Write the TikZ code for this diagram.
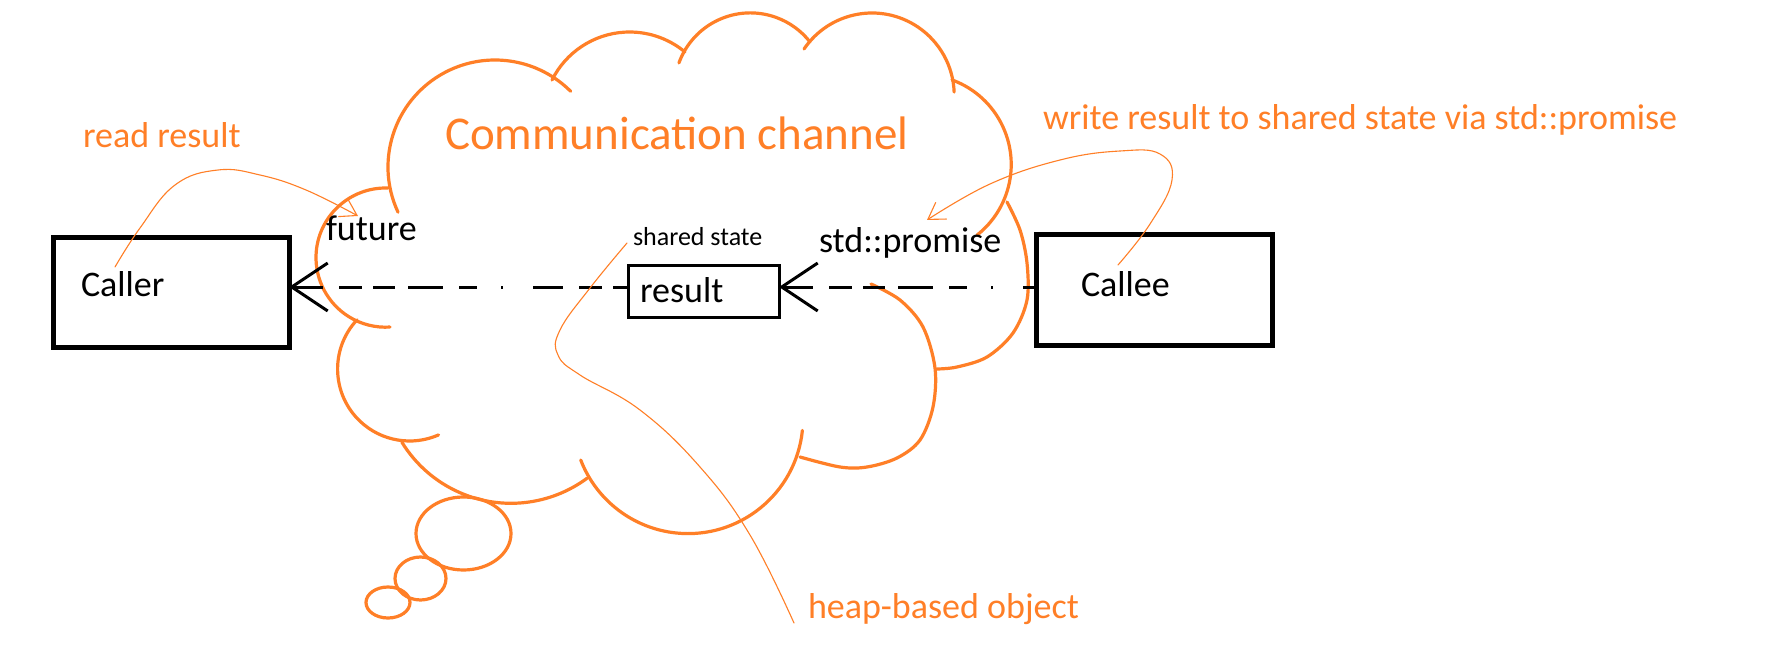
\documentclass[tikz,border=0pt]{standalone}
\usepackage{fontspec}
\setmainfont{Carlito}
\usetikzlibrary{arrows.meta}
\definecolor{paintorange}{RGB}{255,127,39}
\begin{document}
\begin{tikzpicture}[x=1pt,y=-1pt,
  cloudline/.style={draw=paintorange, line width=3.2pt, line cap=round, line join=round},
  noteline/.style={draw=paintorange, line width=1.1pt, line cap=round},
  notetip/.style={-{Straight Barb[length=16pt,width=20pt,line width=1.1pt]}},
  boxnode/.style={draw=black, inner sep=0pt, outer sep=0pt, fill=none},
  txt/.style={inner sep=0pt, outer sep=0pt, anchor=base west, font=\fontsize{36}{40}\selectfont},
  smalltxt/.style={inner sep=0pt, outer sep=0pt, anchor=base west, font=\fontsize{26}{30}\selectfont},
  orangetxt/.style={txt, text=paintorange},
  dashline/.style={draw=black, line width=3pt,
    dash pattern=on 30pt off 16pt on 23pt off 11pt on 22pt off 13pt on 35pt off 16pt on 18pt off 24pt on 2pt off 30pt},
  bigtip/.style={{Straight Barb[length=36pt,width=48pt,line width=3pt]}-}
]
\fill[white] (0,0) rectangle (1766,660);
\useasboundingbox (0,0) rectangle (1766,660);

% ---------- cloud ----------
\draw[cloudline] (495,167) ++(155:107) arc[start angle=155, end angle=315, radius=107];
\draw[cloudline] (629.6,118.7) ++(206.5:86.7) arc[start angle=206.5, end angle=309.7, radius=86.7];
\draw[cloudline] (750.3,88.8) ++(199.9:75.9) arc[start angle=199.9, end angle=321.9, radius=75.9];
\draw[cloudline] (872,95.2) ++(214.2:82.2) arc[start angle=214.2, end angle=357.8, radius=82.2];
\draw[cloudline] (921.2,164.5) ++(-70:90) arc[start angle=-70, end angle=51.6, radius=90];
\draw[cloudline] plot[smooth, tension=0.55] coordinates {(1007,202) (1020,230) (1027,263) (1027,300) (1013,333) (987,357) (957,367) (937,369)};
\draw[cloudline] plot[smooth, tension=0.55] coordinates {(871,284) (900,300) (923,327) (935,368) (933,407) (920,440) (897,458) (867,467) (840,467) (800,457)};
\draw[cloudline] (688,418.6) ++(5.9:115) arc[start angle=5.9, end angle=158.9, radius=115];
\draw[cloudline] (511,375.3) ++(53.5:128) arc[start angle=53.5, end angle=148.5, radius=128];
\draw[cloudline] (409.6,369) ++(223:72) arc[start angle=223, end angle=66.3, radius=72];
\draw[cloudline] (385.6,257.6) ++(272:69.6) arc[start angle=272, end angle=86.4, radius=69.6];
% thought bubbles
\draw[cloudline] (463.5,533.5) ellipse [x radius=47.5pt, y radius=36.5pt];
\draw[cloudline] (420.5,578.5) ellipse [x radius=25.5pt, y radius=21.5pt];
\draw[cloudline] (388,602.5) ellipse [x radius=22pt, y radius=15.5pt];

% ---------- boxes ----------
\node[boxnode, line width=5pt, minimum width=236pt, minimum height=109pt] (caller) at (171,292.5) {};
\node[boxnode, line width=5pt, minimum width=236pt, minimum height=110pt] (callee) at (1154,290) {};
\node[boxnode, line width=3pt, minimum width=151pt, minimum height=51pt] (result) at (703.5,291.5) {};

% ---------- texts ----------
\node[txt] (callertxt) at (81,297) {Caller};
\node[txt] (calleetxt) at (1081,297) {Callee};
\node[txt] (resulttxt) at (640,302) {result};
\node[txt] (futuretxt) at (326,241) {future};
\node[txt] (promisetxt) at (819,253) {std::promise};
\node[smalltxt] (sharedtxt) at (633,246) {shared state};
\node[orangetxt, font=\fontsize{47}{52}\selectfont] (commtxt) at (445,150) {Communication channel};
\node[orangetxt] (readtxt) at (83,148) {read result};
\node[orangetxt] (writetxt) at (1043,130) {write result to shared state via std::promise};
\node[orangetxt] (heaptxt) at (808,618) {heap-based object};

% ---------- black connectors ----------
\draw[dashline, bigtip] ([yshift=5.5pt]caller.east) -- ([yshift=4.5pt]result.west);
\draw[dashline, bigtip] ([yshift=4.5pt]result.east) -- ([yshift=3pt]callee.west);

% ---------- orange annotation connectors ----------
\coordinate (readstart) at (115,267);
\coordinate (readend) at (358,216);
\draw[noteline, notetip] plot[smooth, tension=0.7] coordinates {(readstart) (140,228) (175,185) (218,170) (260,175) (306,190) (readend)};
\coordinate (writestart) at (1118,265);
\coordinate (writeend) at (927,220);
\draw[noteline, notetip] plot[smooth, tension=0.7] coordinates {(writestart) (1150,224) (1172,180) (1160,154) (1120,151) (1060,160) (990,184) (writeend)};
\coordinate (heapstart) at (627,243);
\coordinate (heapend) at (794,623);
\draw[noteline] plot[smooth, tension=0.7] coordinates {(heapstart) (590,288) (560,330) (558,355) (580,375) (640,410) (700,467) (750,535) (heapend)};
\end{tikzpicture}
\end{document}
